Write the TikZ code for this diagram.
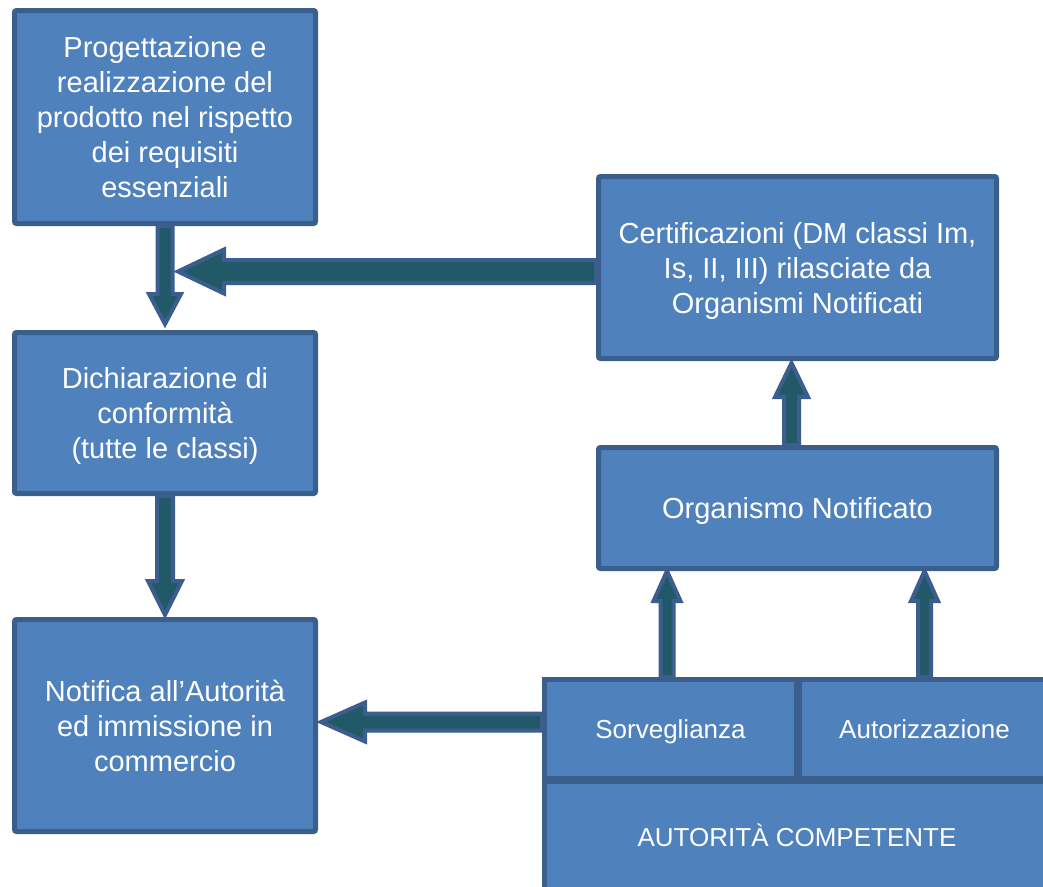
\documentclass[tikz,border=0pt]{standalone}
\usepackage{fontspec}
\setmainfont{Liberation Sans}
\usetikzlibrary{calc}
\definecolor{boxfill}{HTML}{4F81BD}
\definecolor{boxline}{HTML}{3A5F8C}
\definecolor{arrfill}{HTML}{215968}
\definecolor{arrline}{HTML}{3B5E8E}
\tikzset{
  box/.style={draw=boxline, fill=boxfill, line width=5pt, rounded corners=2pt,
    text=white, align=center, inner sep=0pt, font=\fontsize{29}{35}\selectfont},
  smallbox/.style={box, rounded corners=0pt, font=\fontsize{26}{31}\selectfont},
  barrow/.style={draw=arrline, fill=arrfill, line width=4pt, line join=miter}
}
% line with fixed height and no depth (centres text by line metrics)
\newcommand{\fixln}[1]{\raisebox{0pt}[0.72em][0pt]{#1}}
% #1 start, #2 tip, #3 half shaft, #4 half head, #5 head length
\newcommand{\blockarrow}[5]{%
  \coordinate (ba-h) at ($(#2)!#5!(#1)$);
  \draw[barrow] ($(#1)!#3!90:(#2)$) -- ($(ba-h)!#3!-90:(#1)$) -- ($(ba-h)!#4!-90:(#1)$)
    -- (#2) -- ($(ba-h)!#4!90:(#1)$) -- ($(ba-h)!#3!90:(#1)$) -- ($(#1)!#3!-90:(#2)$) -- cycle;}
\begin{document}
\begin{tikzpicture}[x=1pt,y=-1pt]
\useasboundingbox (0,0) rectangle (1043,886);
\clip (0,0) rectangle (1043,886);
% boxes
\node[box, minimum width=301pt, minimum height=213pt] (b1) at (165,117)
  {Progettazione e\\realizzazione del\\prodotto nel rispetto\\dei requisiti\\\fixln{essenziali}};
\node[box, minimum width=301pt, minimum height=161pt] (b2) at (165,413)
  {Dichiarazione di\\conformità\\\fixln{(tutte le classi)}};
\node[box, minimum width=301pt, minimum height=212pt] (b3) at (165,725.5)
  {Notifica all’Autorità\\ed immissione in\\\fixln{commercio}};
\node[box, minimum width=398pt, minimum height=182pt] (cert) at (797.5,267.5)
  {Certificazioni (DM classi Im,\\Is, II, III) rilasciate da\\\fixln{Organismi Notificati}};
\node[box, minimum width=398pt, minimum height=121pt] (org) at (797.5,508)
  {\fixln{Organismo Notificato}};
\node[smallbox, minimum width=252pt, minimum height=99pt] (sorv) at (670.5,729) {\fixln{Sorveglianza}};
\node[smallbox, minimum width=250pt, minimum height=99pt] (autz) at (924.5,729) {\fixln{Autorizzazione}};
\node[smallbox, minimum width=505pt, minimum height=112pt] (auth) at (797,837.5) {\fixln{AUTORITÀ COMPETENTE}};
% redraw the shared border lines on top
\draw[boxline, line width=5pt] (sorv.north east) -- (sorv.south east);
\draw[boxline, line width=5pt] (sorv.south west) -- (autz.south east);
% arrow end points
\coordinate (a1s) at (b1.south);
\coordinate (a1e) at ($(b2.north)+(0,-6)$);
\coordinate (a2s) at (b2.south);
\coordinate (a2e) at ($(b3.north)+(0,-2)$);
\coordinate (a3s) at ($(org.north)+(-6,0)$);
\coordinate (a3e) at ($(a3s |- cert.south)+(0,2)$);
\coordinate (a4s) at ($(sorv.north)+(-3.5,0)$);
\coordinate (a4e) at (a4s |- org.south);
\coordinate (a5s) at (autz.north);
\coordinate (a5e) at (a5s |- org.south);
\coordinate (a6s) at ($(cert.west)+(0,4)$);
\coordinate (a6e) at ($(a1s |- a6s)+(13,0)$);
\coordinate (a7s) at ($(sorv.west)+(0,-7)$);
\coordinate (a7e) at ($(b3.east |- a7s)+(3,0)$);
% arrows
\blockarrow{a1s}{a1e}{7.5pt}{16pt}{30pt}
\blockarrow{a2s}{a2e}{8pt}{17pt}{34pt}
\blockarrow{a3s}{a3e}{7.5pt}{16.5pt}{34pt}
\blockarrow{a4s}{a4e}{6.5pt}{13.5pt}{30pt}
\blockarrow{a5s}{a5e}{6.5pt}{13.5pt}{30pt}
\blockarrow{a6s}{a6e}{11.5pt}{22pt}{46pt}
\blockarrow{a7s}{a7e}{8.5pt}{19.5pt}{44pt}
\end{tikzpicture}
\end{document}
